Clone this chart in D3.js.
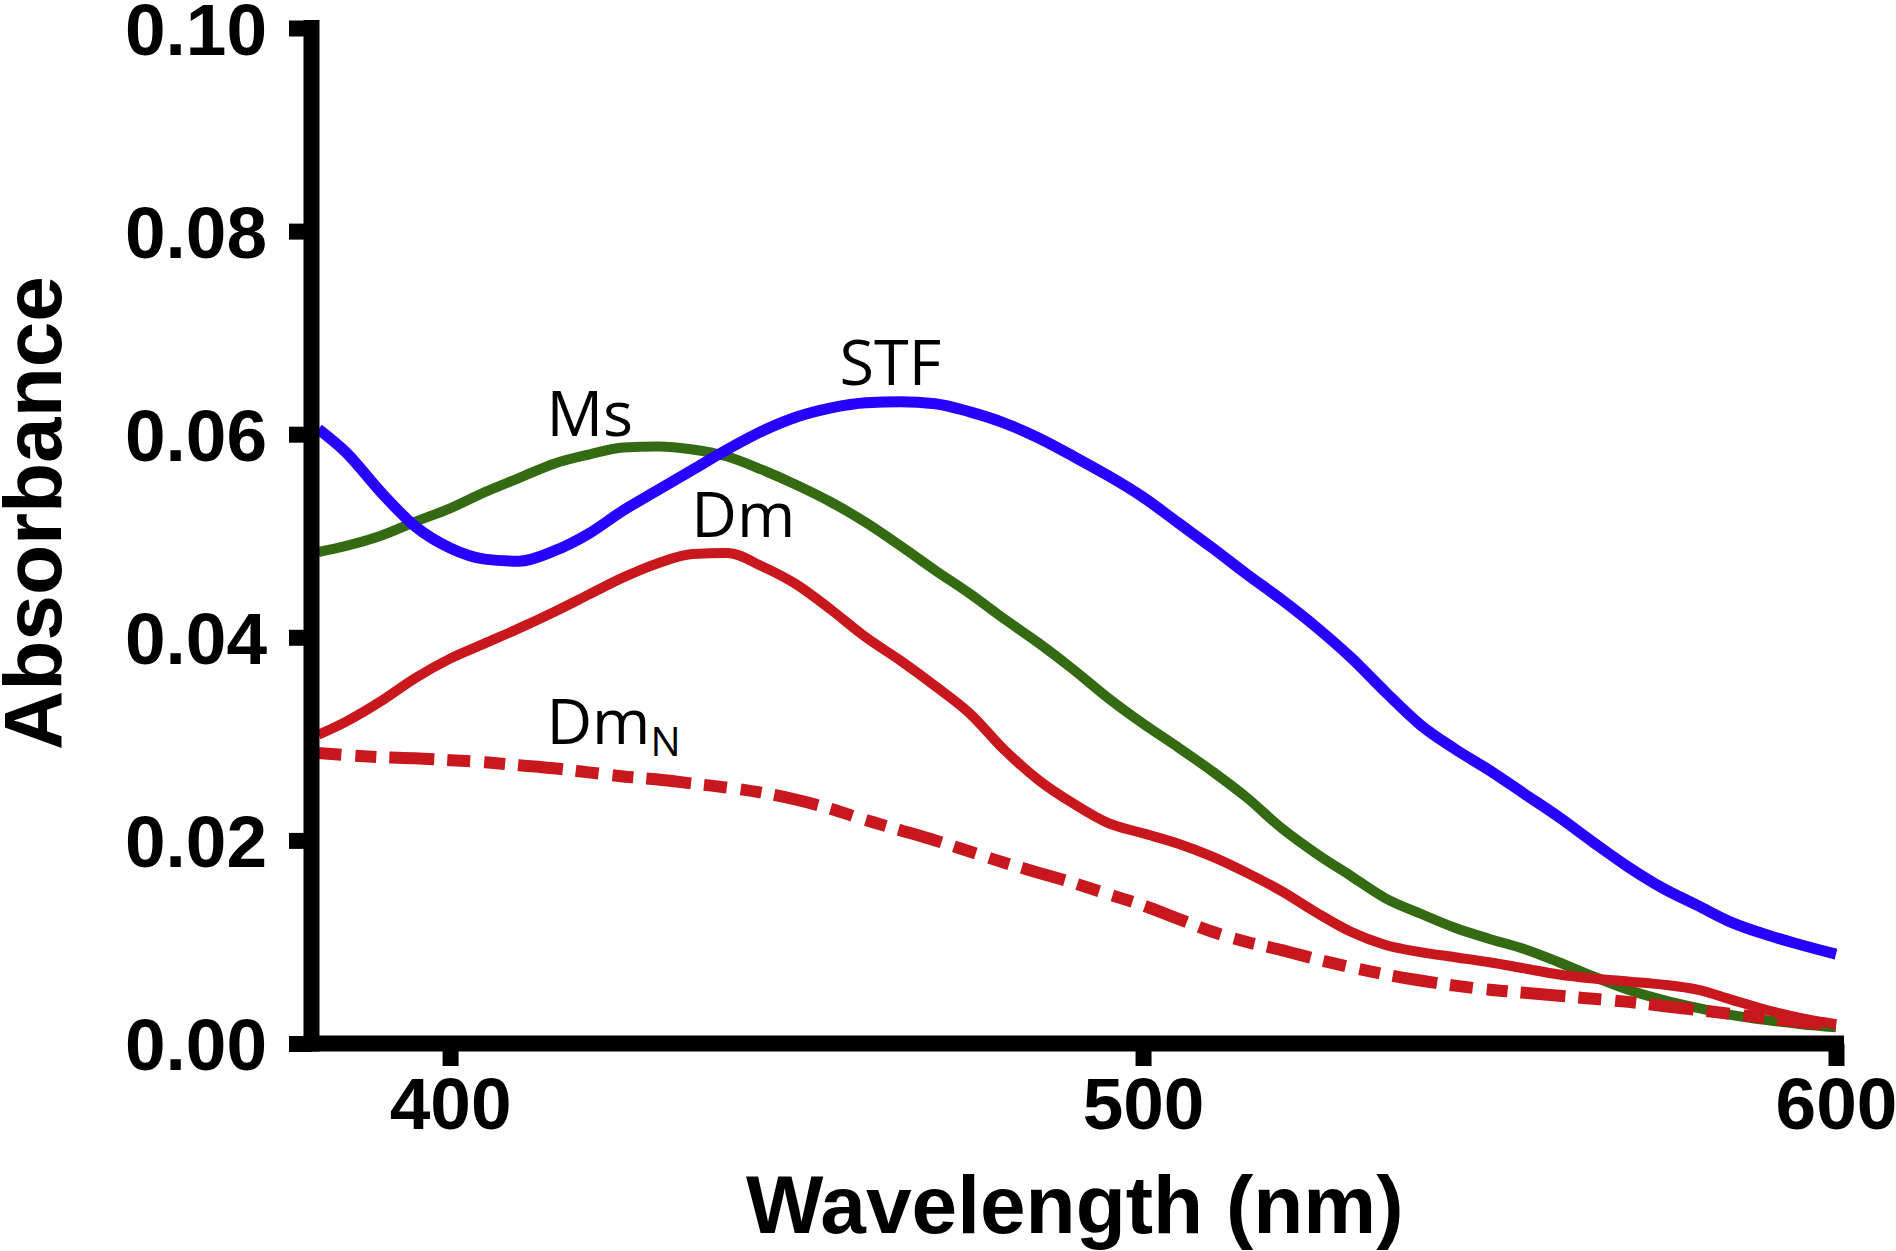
<!DOCTYPE html>
<html>
<head>
<meta charset="utf-8">
<script src="https://cdn.jsdelivr.net/npm/d3@7"></script>
<style>
  html, body { margin: 0; padding: 0; background: #fff; }
  svg { display: block; }
</style>
</head>
<body>
<svg id="chart" width="1896" height="1251"></svg>
<script>
// ---------- data ----------
const wavelengths = [381,385,390,395,400,405,410,415,420,425,430,435,440,445,450,455,460,465,470,475,480,485,490,495,500,505,510,515,520,525,530,535,540,545,550,555,560,565,570,575,580,585,590,595,600];

const stfValues = [0.0605,0.0582,0.0543,0.0509,0.0488,0.0477,0.0475,0.0485,0.0502,0.0525,0.0545,0.0565,0.0585,0.0603,0.0617,0.0626,0.0631,0.0632,0.0630,0.0622,0.0611,0.0596,0.0578,0.0559,0.0538,0.0513,0.0488,0.0462,0.0437,0.0410,0.0380,0.0346,0.0314,0.0290,0.0269,0.0246,0.0223,0.0198,0.0174,0.0153,0.0136,0.0119,0.0107,0.0097,0.0088];

const msValues = [0.0484,0.0490,0.0500,0.0514,0.0527,0.0543,0.0557,0.0571,0.0580,0.0587,0.0588,0.0585,0.0578,0.0565,0.0550,0.0533,0.0513,0.0490,0.0466,0.0443,0.0418,0.0394,0.0368,0.0340,0.0315,0.0292,0.0268,0.0242,0.0212,0.0187,0.0165,0.0143,0.0128,0.0114,0.0103,0.0093,0.0080,0.0066,0.0053,0.0043,0.0035,0.0028,0.0023,0.0019,0.0016];

const dmValues = [0.0304,0.0317,0.0337,0.0360,0.0379,0.0394,0.0409,0.0425,0.0442,0.0459,0.0473,0.0482,0.0483,0.0470,0.0452,0.0427,0.0400,0.0377,0.0352,0.0325,0.0289,0.0259,0.0236,0.0217,0.0207,0.0197,0.0184,0.0168,0.0150,0.0129,0.0110,0.0097,0.0090,0.0085,0.0080,0.0074,0.0068,0.0064,0.0061,0.0058,0.0053,0.0043,0.0033,0.0025,0.0019];

const dmNValues = [0.0286,0.0284,0.0282,0.0281,0.0279,0.0277,0.0274,0.0271,0.0267,0.0263,0.0260,0.0256,0.0252,0.0247,0.0240,0.0231,0.0220,0.0210,0.0200,0.0189,0.0178,0.0168,0.0158,0.0147,0.0136,0.0123,0.0110,0.0100,0.0092,0.0083,0.0075,0.0068,0.0062,0.0057,0.0053,0.0050,0.0047,0.0044,0.0041,0.0037,0.0033,0.0029,0.0025,0.0021,0.0018];

const xTicks = [400, 500, 600];
const yTicks = [0, 0.02, 0.04, 0.06, 0.08, 0.10];
const yTickLabels = ["0.00", "0.02", "0.04", "0.06", "0.08", "0.10"];

const seriesNames = ["Ms", "STF", "DmN", "Dm"];
const seriesColors = ["#346a12", "#2800ff", "#c8171d", "#c8171d"];

// curve labels: [text, subscript, wavelength, absorbance]
const labelText = ["STF", "Ms", "Dm", "Dm"];
const labelSub = ["", "", "", "N"];
const labelWl = [456.2, 413.9, 434.8, 413.9];
const labelAbs = [0.0648, 0.0598, 0.0499, 0.0295];

// ---------- layout ----------
const svg = d3.select("#chart");
const x = d3.scaleLinear().domain([380, 600]).range([311.5, 1836]);
const y = d3.scaleLinear().domain([0, 0.1]).range([1043.5, 28]);

const line = d3.line()
  .x((d, i) => x(wavelengths[i]))
  .y(d => y(d))
  .curve(d3.curveMonotoneX);

const seriesData = [msValues, stfValues, dmNValues, dmValues];
const widths = [10, 11, 12, 10];
const dashes = [null, null, "23,14,21,13,45,13", null];

const gLines = svg.append("g");
seriesData.forEach((vals, k) => {
  gLines.append("path")
    .datum(vals)
    .attr("d", line)
    .attr("fill", "none")
    .attr("stroke", seriesColors[k])
    .attr("stroke-width", widths[k])
    .attr("stroke-linejoin", "round")
    .attr("stroke-dasharray", dashes[k]);
});

// ---------- axes ----------
const font = "'Liberation Sans', Arial, Helvetica, sans-serif";

const yAxis = d3.axisLeft(y)
  .tickValues(yTicks)
  .tickFormat((d, i) => yTickLabels[i])
  .tickSize(22.5)
  .tickSizeOuter(0)
  .tickPadding(22);

const gy = svg.append("g").call(yAxis);
gy.select(".domain").attr("stroke", "#000").attr("stroke-width", 16).attr("stroke-linecap", "square")
  .attr("d", `M0,${y(0)}V${y(0.1)}`);
gy.selectAll(".tick line").attr("stroke", "#000").attr("stroke-width", 16);
gy.selectAll(".tick text")
  .attr("font-family", font).attr("font-weight", "bold").attr("font-size", 73).attr("fill", "#000")
  .attr("dy", "0.36em");
gy.attr("transform", `translate(${x(380)},0)`);

const xAxis = d3.axisBottom(x)
  .tickValues(xTicks)
  .tickFormat(d3.format("d"))
  .tickSize(22.5)
  .tickSizeOuter(0)
  .tickPadding(11);

const gx = svg.append("g").attr("transform", `translate(0,${y(0)})`).call(xAxis);
gx.select(".domain").attr("stroke", "#000").attr("stroke-width", 16).attr("stroke-linecap", "square")
  .attr("d", `M${x(380)},0H${x(600)}`);
gx.selectAll(".tick line").attr("stroke", "#000").attr("stroke-width", 16);
gx.selectAll(".tick text")
  .attr("font-family", font).attr("font-weight", "bold").attr("font-size", 73).attr("fill", "#000");

// axis titles
svg.append("text")
  .attr("x", (x(380) + x(600)) / 2 + 1)
  .attr("y", 1233)
  .attr("text-anchor", "middle")
  .attr("font-family", font).attr("font-weight", "bold").attr("font-size", 82)
  .text("Wavelength (nm)");

svg.append("text")
  .attr("transform", `translate(61,513) rotate(-90)`)
  .attr("text-anchor", "middle")
  .attr("font-family", font).attr("font-weight", "bold").attr("font-size", 82)
  .text("Absorbance");

// curve labels
const labelFont = "'Open Sans', 'Noto Sans', sans-serif";
labelText.forEach((t, i) => {
  const txt = svg.append("text")
    .attr("x", x(labelWl[i]))
    .attr("y", y(labelAbs[i]))
    .attr("font-family", labelFont)
    .attr("font-size", 63)
    .attr("fill", "#000")
    .text(t);
  if (labelSub[i]) {
    txt.append("tspan")
      .attr("font-size", 40)
      .attr("dy", 12)
      .text(labelSub[i]);
  }
});
</script>
</body>
</html>
